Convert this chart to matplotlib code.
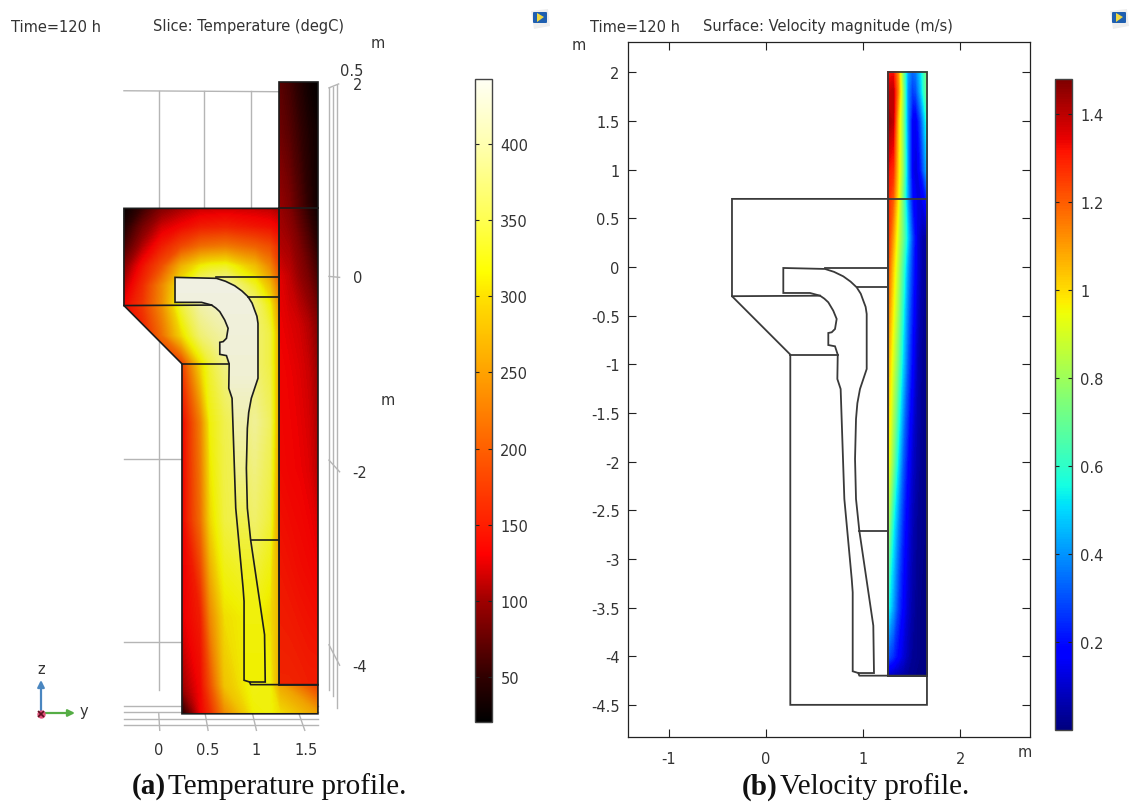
import numpy as np
import matplotlib
matplotlib.use('Agg')
import matplotlib.pyplot as plt
from matplotlib.cm import ScalarMappable
from matplotlib.colors import LinearSegmentedColormap, Normalize
from matplotlib.patches import Polygon, FancyBboxPatch

W, H = 1135, 803
plt.rcParams['axes.unicode_minus'] = False

# casting outline, metres (y, z)
part_y = [0.178, 0.607, 0.700, 0.795, 0.870, 0.933, 0.975, 1.001, 1.025, 1.036, 1.036, 0.967, 0.940, 0.926, 0.916, 0.926, 0.960,
          1.104, 1.111, 0.950, 0.892, 0.892, 0.882, 0.806, 0.768, 0.734, 0.738, 0.710, 0.641,
          0.641, 0.676, 0.710, 0.727, 0.692, 0.641, 0.600, 0.556, 0.453, 0.178]
part_z = [-0.010, -0.020, -0.050, -0.096, -0.150, -0.209, -0.275, -0.346, -0.410, -0.483, -1.048, -1.254, -1.400, -1.562, -1.973, -2.384, -2.710,
          -3.686, -4.173, -4.173, -4.155, -3.343, -3.207, -2.384, -1.254, -1.151, -0.901, -0.815, -0.802,
          -0.678, -0.671, -0.637, -0.534, -0.449, -0.363, -0.325, -0.295, -0.267, -0.267]
mould_y = [-0.35, 1.255, 1.255, 1.656, 1.656, 0.25, 0.25, -0.35]
mould_z = [0.70, 0.70, -4.20, -4.20, -4.50, -4.50, -0.90, -0.30]
column_y = [1.255, 1.656, 1.656, 1.255]
column_z = [2.0, 2.0, -4.2, -4.2]
inner_lines = [([0.607, 1.255], [-0.01, -0.01]), ([0.933, 1.255], [-0.21, -0.21]),
               ([0.960, 1.255], [-2.71, -2.71]), ([0.25, 0.738], [-0.90, -0.90]),
               ([-0.35, 0.556], [-0.30, -0.295]), ([0.950, 0.960, 1.255], [-4.173, -4.20, -4.20]),
               ([1.255, 1.656], [0.70, 0.70])]

# temperature, degC
temp_min, temp_max = 20.4, 442.7
mould_t_y = [-0.35, -0.15, 0.05, 0.25, 0.45, 0.55, 0.7, 1.0, 1.15, 1.255, 1.656]
mould_t_z = [0.7, 0.5, 0.3, 0.1, -0.1, -0.3, -0.6, -0.9, -1.5, -2.5, -3.5, -4.2, -4.5]
mould_t = [[22, 55, 90, 105, 115, 116, 118, 115, 112, 105, 105],
           [40, 85, 120, 135, 150, 152, 155, 145, 140, 130, 130],
           [60, 110, 150, 185, 215, 220, 225, 205, 190, 160, 160],
           [90, 140, 190, 270, 315, 325, 330, 280, 235, 180, 180],
           [110, 160, 235, 320, 380, 390, 400, 330, 280, 210, 210],
           [130, 170, 240, 340, 400, 410, 420, 370, 320, 240, 240],
           [125, 150, 215, 300, 370, 385, 400, 370, 345, 260, 260],
           [130, 135, 150, 170, 300, 340, 380, 370, 345, 260, 260],
           [125, 125, 125, 125, 230, 320, 350, 390, 360, 250, 250],
           [125, 125, 125, 125, 215, 300, 345, 365, 340, 240, 240],
           [125, 125, 125, 125, 150, 235, 305, 320, 305, 270, 270],
           [100, 100, 100, 100, 135, 190, 285, 325, 320, 260, 170],
           [35, 35, 35, 35, 130, 160, 235, 315, 320, 305, 255]]
column_t_y = [1.255, 1.35, 1.45, 1.55, 1.656]
column_t_z = [2.0, 1.5, 0.7, 0.3, 0.0, -0.5, -1.0, -2.0, -3.0, -4.2]
column_t = [[70, 60, 45, 30, 22],
            [80, 70, 55, 40, 28],
            [100, 90, 70, 50, 28],
            [110, 105, 90, 70, 45],
            [125, 115, 100, 85, 60],
            [130, 125, 120, 110, 90],
            [132, 130, 125, 118, 100],
            [135, 132, 130, 125, 110],
            [145, 142, 138, 135, 130],
            [155, 155, 153, 150, 150]]
part_t_y = [0.1, 1.2]
part_t_z = [0.0, -0.5, -1.0, -1.5, -2.0, -2.5, -3.0, -3.5, -4.2]
part_t = [[440, 440], [435, 435], [430, 430], [405, 405], [385, 385], [350, 350], [330, 330], [320, 320], [315, 315]]

# velocity, m/s
vel_min, vel_max = 0.0, 1.48
vel_y = [1.255, 1.30, 1.35, 1.40, 1.45, 1.50, 1.55, 1.60, 1.656]
vel_z = [2.0, 1.8, 1.5, 1.0, 0.7, 0.3, 0.0, -1.0, -2.0, -2.7, -3.5, -4.0, -4.2]
vel = [[1.30, 1.32, 1.12, 0.75, 0.42, 0.32, 0.36, 0.50, 0.72],
       [1.38, 1.40, 1.15, 0.80, 0.40, 0.26, 0.30, 0.46, 0.70],
       [1.44, 1.40, 1.05, 0.78, 0.40, 0.16, 0.14, 0.30, 0.55],
       [1.32, 1.28, 1.02, 0.78, 0.42, 0.15, 0.10, 0.22, 0.42],
       [1.28, 1.20, 0.98, 0.72, 0.42, 0.20, 0.13, 0.12, 0.22],
       [1.25, 1.10, 0.90, 0.72, 0.50, 0.28, 0.12, 0.06, 0.05],
       [1.20, 1.03, 0.85, 0.65, 0.42, 0.25, 0.12, 0.05, 0.03],
       [1.05, 0.90, 0.72, 0.50, 0.32, 0.18, 0.07, 0.03, 0.02],
       [0.95, 0.75, 0.52, 0.33, 0.20, 0.10, 0.05, 0.02, 0.01],
       [0.78, 0.55, 0.38, 0.24, 0.14, 0.07, 0.03, 0.02, 0.01],
       [0.55, 0.42, 0.28, 0.18, 0.10, 0.05, 0.02, 0.01, 0.01],
       [0.30, 0.25, 0.18, 0.12, 0.07, 0.03, 0.02, 0.01, 0.01],
       [0.08, 0.07, 0.06, 0.05, 0.03, 0.02, 0.01, 0.01, 0.01]]

# tick labels
temp_ticks = [50, 100, 150, 200, 250, 300, 350, 400]
vel_ticks = [0.2, 0.4, 0.6, 0.8, 1, 1.2, 1.4]
vel_tick_labels = ['0.2', '0.4', '0.6', '0.8', '1', '1.2', '1.4']
x_ticks = [-1, 0, 1, 2]
x_tick_labels = ['-1', '0', '1', '2']
y_ticks = [-4.5, -4, -3.5, -3, -2.5, -2, -1.5, -1, -0.5, 0, 0.5, 1, 1.5, 2]
y_tick_labels = ['-4.5', '-4', '-3.5', '-3', '-2.5', '-2', '-1.5', '-1', '-0.5', '0', '0.5', '1', '1.5', '2']

thermal_stops = [(0.0, '#000000'), (0.07, '#300000'), (0.19, '#a00000'), (0.26, '#ff0000'), (0.31, '#ff2000'),
                 (0.425, '#ff6000'), (0.54, '#ffa000'), (0.66, '#ffe000'), (0.70, '#ffff00'), (0.78, '#ffff50'),
                 (0.90, '#ffffb0'), (1.0, '#fffff4')]
thermal = LinearSegmentedColormap.from_list('thermal', thermal_stops, N=512)
# the 3D slice is lit, so it comes out a bit darker than the colour bar
thermal_lit = LinearSegmentedColormap.from_list('thermal_lit', thermal(np.linspace(0, 1, 512))[:, :3] * 0.94, N=512)

TEXT = '#333333'
LINE = '#1c1c1c'
GRID = '#b5b5b5'
FS = 10.5

fig = plt.figure(figsize=(W / 100, H / 100), dpi=100, facecolor='white')


def px_axes(x0, y0, x1, y1):
    return fig.add_axes([x0 / W, 1 - y1 / H, (x1 - x0) / W, (y1 - y0) / H])


def draw_outline(ax, color, lw):
    ax.add_patch(Polygon(np.c_[mould_y, mould_z], closed=True, fill=False, ec=color, lw=lw, zorder=5))
    ax.add_patch(Polygon(np.c_[column_y, column_z], closed=True, fill=False, ec=color, lw=lw, zorder=5))
    ax.add_patch(Polygon(np.c_[part_y, part_z], closed=True, fill=False, ec=color, lw=lw, zorder=5))
    for line_y, line_z in inner_lines:
        ax.plot(line_y, line_z, color=color, lw=lw, zorder=5)


def clipped_field(ax, y, z, values, outline_y, outline_z, zorder):
    levels = np.linspace(temp_min, temp_max, 200)
    cs = ax.contourf(y, z, np.array(values, dtype=float), levels=levels, cmap=thermal_lit, extend='both', zorder=zorder)
    cs.set_edgecolor('face')
    clip = Polygon(np.c_[outline_y, outline_z], closed=True, transform=ax.transData, fc='none', ec='none')
    ax.add_patch(clip)
    cs.set_clip_path(clip)


# (a) temperature slice
ax1 = px_axes(100, 70, 345, 740)
ax1.set_xlim((100 - 157.8) / 96.7, (345 - 157.8) / 96.7)
ax1.set_ylim((277.4 - 740) / 97.2, (277.4 - 70) / 97.2)
ax1.axis('off')

# 3D grid behind the slice
for gy, top, bottom in [(0.01, 1.91, -4.25), (0.48, 1.91, 0.7), (0.96, 1.91, 0.7)]:
    ax1.plot([gy, gy], [top, bottom], color=GRID, lw=1, zorder=1)
ax1.plot([-0.35, 1.255], [1.91, 1.90], color=GRID, lw=1, zorder=1)
for gz in [-1.88, -3.76]:
    ax1.plot([-0.35, 0.25], [gz, gz], color=GRID, lw=1, zorder=1)
for gz in [-4.42, -4.48, -4.55, -4.62]:
    ax1.plot([-0.35, 1.656], [gz, gz], color=GRID, lw=1, zorder=1)
for y0, y1 in [(0.01, 0.02), (0.49, 0.52), (0.98, 1.02), (1.46, 1.52)]:
    ax1.plot([y0, y1], [-4.5, -4.67], color=GRID, lw=1, zorder=1)
for gy, top, bottom in [(1.77, 1.94, -4.26), (1.81, 1.95, -4.32), (1.855, 1.97, -4.44)]:
    ax1.plot([gy, gy], [top, bottom], color=GRID, lw=1, zorder=1)
ax1.plot([1.77, 1.87], [1.94, 1.98], color=GRID, lw=1, zorder=1)
ax1.plot([1.77, 1.88], [0.0, -0.01], color=GRID, lw=1, zorder=1)
ax1.plot([1.77, 1.88], [-1.89, -2.01], color=GRID, lw=1, zorder=1)
ax1.plot([1.77, 1.88], [-3.79, -4.0], color=GRID, lw=1, zorder=1)

clipped_field(ax1, mould_t_y, mould_t_z, mould_t, mould_y, mould_z, 2)
clipped_field(ax1, column_t_y, column_t_z, column_t, column_y, column_z, 3)
clipped_field(ax1, part_t_y, part_t_z, part_t, part_y, part_z, 4)
draw_outline(ax1, LINE, 1.2)

# (b) velocity surface
ax2 = px_axes(628, 43, 1030, 738)
ax2.set_xlim((628 - 766) / 97.2, (1030 - 766) / 97.2)
ax2.set_ylim((268 - 738) / 97.3, (268 - 43) / 97.3)
cs = ax2.contourf(vel_y, vel_z, np.array(vel), levels=np.linspace(vel_min, vel_max, 200), cmap='jet', extend='both', zorder=2)
cs.set_edgecolor('face')
draw_outline(ax2, '#3a3a3a', 1.3)
ax2.set_xticks(x_ticks)
ax2.set_xticklabels(x_tick_labels)
ax2.set_yticks(y_ticks)
ax2.set_yticklabels(y_tick_labels)
ax2.tick_params(direction='in', length=6, width=0.8, top=True, right=True, labelsize=FS, labelcolor=TEXT, pad=6, color='#222222')
ax2.tick_params(axis='x', pad=10)
for spine in ax2.spines.values():
    spine.set_linewidth(0.9)
    spine.set_color('#222222')

# colour bars
cax1 = px_axes(475, 80, 492, 723)
cb1 = fig.colorbar(ScalarMappable(Normalize(temp_min, temp_max), thermal), cax=cax1)
cb1.set_ticks(temp_ticks)
cax2 = px_axes(1055, 80, 1072, 731)
cb2 = fig.colorbar(ScalarMappable(Normalize(vel_min, vel_max), 'jet'), cax=cax2)
cb2.set_ticks(vel_ticks)
cb2.set_ticklabels(vel_tick_labels)
for cb in (cb1, cb2):
    cb.ax.tick_params(direction='in', length=3, width=0.8, left=True, right=True, labelsize=FS, labelcolor=TEXT, pad=6, color='#222222')
    cb.outline.set_edgecolor('#444444')
    cb.outline.set_linewidth(1.0)

# everything else is placed in pixels on top
over = fig.add_axes([0, 0, 1, 1], zorder=10)
over.set_xlim(0, W)
over.set_ylim(H, 0)
over.axis('off')
over.patch.set_alpha(0)


def label(x, y, s, ha='left', size=FS):
    over.text(x, y, s, ha=ha, va='center', fontsize=size, color=TEXT)


label(11, 27, 'Time=120 h')
label(153, 27, 'Slice: Temperature (degC)')
label(590, 27, 'Time=120 h')
label(703, 27, 'Surface: Velocity magnitude (m/s)')
label(378, 44, 'm', ha='center')
label(352, 72, '0.5', ha='center')
label(358, 85, '2', ha='center')
label(358, 279, '0', ha='center')
label(388, 401, 'm', ha='center')
label(360, 474, '-2', ha='center')
label(360, 668, '-4', ha='center')
for x, s in zip([159, 208, 256, 306], ['0', '0.5', '1', '1.5']):
    label(x, 751, s, ha='center')
label(579, 45, 'm', ha='center')
label(1025, 753, 'm', ha='center')

# orientation triad
over.annotate('', xy=(41, 681), xytext=(41, 714), arrowprops=dict(arrowstyle='-|>', color='#4a86c0', lw=1.6, shrinkA=0, shrinkB=0))
over.annotate('', xy=(75, 714), xytext=(41, 714), arrowprops=dict(arrowstyle='-|>', color='#55ad45', lw=1.6, shrinkA=0, shrinkB=0))
over.plot([41], [715], marker='o', ms=5, color='#e0507a', zorder=3)
over.plot([41], [715], marker='x', ms=4, mew=1.2, color='#601020', zorder=4)
label(41, 670, 'z', ha='center')
label(84, 712, 'y', ha='center')

# view toolbar icons
for cx in [540, 1119]:
    over.add_patch(Polygon([(cx - 9, 12), (cx + 8, 10), (cx + 10, 27), (cx - 6, 30)], closed=True, fc='#eeeeee', ec='none'))
    over.add_patch(FancyBboxPatch((cx - 6, 14), 12, 9, boxstyle='round,pad=1', fc='#1f5fb0', ec='none'))
    over.add_patch(Polygon([(cx - 3, 14), (cx + 4, 18), (cx - 3, 23)], closed=True, fc='#f0d840', ec='none'))

# captions
serif = 'Liberation Serif'
over.text(132, 787, '(a)', fontfamily=serif, fontweight='bold', fontsize=21, va='center', color='#111111')
over.text(168, 787, 'Temperature profile.', fontfamily=serif, fontsize=21, va='center', color='#111111')
over.text(742, 787, '(b)', fontfamily=serif, fontweight='bold', fontsize=21, va='center', color='#111111')
over.text(780, 787, 'Velocity profile.', fontfamily=serif, fontsize=21, va='center', color='#111111')

fig.savefig('out.png', dpi=100, facecolor='white')
